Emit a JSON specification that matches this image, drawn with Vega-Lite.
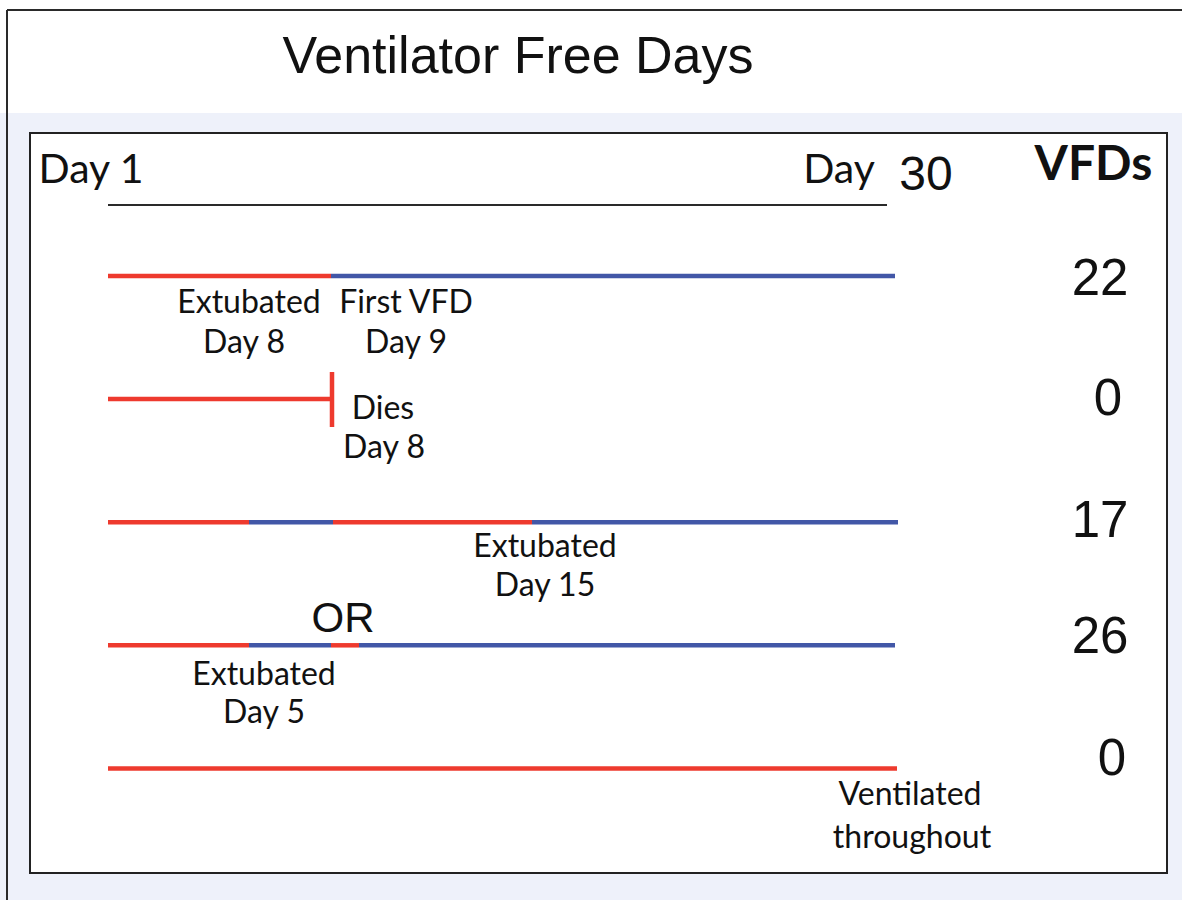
{
  "$schema": "https://vega.github.io/schema/vega-lite/v6.json",
  "width": 1182,
  "height": 900,
  "autosize": {"type": "none"},
  "padding": 0,
  "background": "white",
  "config": {"view": {"stroke": null}},
  "datasets": {
    "frame": [
      {"part": "panel", "day": -4.1065, "day_end": 40.8365, "row": -0.3241, "row_end": 6.069},
      {"part": "box", "day": -2.9658, "day_end": 40.2662, "row": -0.1617, "row_end": 5.8497}
    ],
    "lines": [
      {"part": "outer left", "day": -3.8403, "day_end": -3.8403, "row": -1.1608, "row_end": 6.069},
      {"part": "outer top", "day": -3.8403, "day_end": 40.8365, "row": -1.1608, "row_end": -1.1608},
      {"part": "timeline", "day": 0, "day_end": 29.62, "row": 0.4232, "row_end": 0.4232}
    ],
    "segments": [
      {"patient": 1, "state": "Ventilated", "day": 0, "day_end": 8.479, "row": 1, "row_end": 1},
      {"patient": 1, "state": "Ventilator free", "day": 8.479, "day_end": 29.924, "row": 1, "row_end": 1},
      {"patient": 2, "state": "Ventilated", "day": 0, "day_end": 8.517, "row": 2, "row_end": 2},
      {"patient": 2, "state": "Ventilated", "day": 8.517, "day_end": 8.517, "row": 1.7799, "row_end": 2.2266},
      {"patient": 3, "state": "Ventilated", "day": 0, "day_end": 5.361, "row": 3, "row_end": 3},
      {"patient": 3, "state": "Ventilator free", "day": 5.361, "day_end": 8.555, "row": 3, "row_end": 3},
      {"patient": 3, "state": "Ventilated", "day": 8.555, "day_end": 16.122, "row": 3, "row_end": 3},
      {"patient": 3, "state": "Ventilator free", "day": 16.122, "day_end": 30.038, "row": 3, "row_end": 3},
      {"patient": 4, "state": "Ventilated", "day": 0, "day_end": 5.361, "row": 4, "row_end": 4},
      {"patient": 4, "state": "Ventilator free", "day": 5.361, "day_end": 8.479, "row": 4, "row_end": 4},
      {"patient": 4, "state": "Ventilated", "day": 8.479, "day_end": 9.544, "row": 4, "row_end": 4},
      {"patient": 4, "state": "Ventilator free", "day": 9.544, "day_end": 29.924, "row": 4, "row_end": 4},
      {"patient": 5, "state": "Ventilated", "day": 0, "day_end": 30.0, "row": 5, "row_end": 5}
    ],
    "labels": [
      {"kind": "title", "text": "Ventilator Free Days", "day": 15.589, "row": -0.6491},
      {"kind": "header", "text": "Day 1", "day": -0.6464, "row": 0.2445},
      {"kind": "header", "text": "Day", "day": 27.795, "row": 0.2445},
      {"kind": "thirty", "text": "30", "day": 31.103, "row": 0.3014},
      {"kind": "vfd", "text": "VFDs", "day": 37.471, "row": 0.2201},
      {"kind": "count", "text": "22", "day": 37.719, "row": 1.1543},
      {"kind": "count", "text": "0", "day": 38.02, "row": 2.1292},
      {"kind": "count", "text": "17", "day": 37.719, "row": 3.1202},
      {"kind": "count", "text": "26", "day": 37.719, "row": 4.0626},
      {"kind": "count", "text": "0", "day": 38.17, "row": 5.0536},
      {"kind": "or", "text": "OR", "day": 8.935, "row": 3.892},
      {"kind": "note", "text": "Extubated", "day": 5.361, "row": 1.3006},
      {"kind": "note", "text": "Day 8", "day": 5.171, "row": 1.6255},
      {"kind": "note", "text": "First VFD", "day": 11.331, "row": 1.3006},
      {"kind": "note", "text": "Day 9", "day": 11.331, "row": 1.6255},
      {"kind": "note", "text": "Dies", "day": 10.456, "row": 2.1617},
      {"kind": "note", "text": "Day 8", "day": 10.494, "row": 2.4785},
      {"kind": "note", "text": "Extubated", "day": 16.616, "row": 3.2827},
      {"kind": "note", "text": "Day 15", "day": 16.616, "row": 3.5995},
      {"kind": "note", "text": "Extubated", "day": 5.932, "row": 4.3225},
      {"kind": "note", "text": "Day 5", "day": 5.932, "row": 4.6312},
      {"kind": "note", "text": "Ventilated", "day": 30.494, "row": 5.2973},
      {"kind": "note", "text": "throughout", "day": 30.57, "row": 5.6466}
    ]
  },
  "layer": [
    {
      "data": {"name": "frame"},
      "transform": [{"filter": "datum.part === 'panel'"}],
      "mark": {"type": "rect", "fill": "#eef1fa"},
      "encoding": {
        "x": {"field": "day", "type": "quantitative", "scale": {"domain": [-4.1065, 40.8365], "nice": false, "zero": false}, "axis": null},
        "x2": {"field": "day_end"},
        "y": {"field": "row", "type": "quantitative", "scale": {"domain": [-1.2421, 6.069], "nice": false, "zero": false, "reverse": true}, "axis": null},
        "y2": {"field": "row_end"}
      }
    },
    {
      "data": {"name": "frame"},
      "transform": [{"filter": "datum.part === 'box'"}],
      "mark": {"type": "rect", "fill": "white", "stroke": "#222222", "strokeWidth": 2},
      "encoding": {
        "x": {"field": "day", "type": "quantitative", "scale": {"domain": [-4.1065, 40.8365], "nice": false, "zero": false}, "axis": null},
        "x2": {"field": "day_end"},
        "y": {"field": "row", "type": "quantitative", "scale": {"domain": [-1.2421, 6.069], "nice": false, "zero": false, "reverse": true}, "axis": null},
        "y2": {"field": "row_end"}
      }
    },
    {
      "data": {"name": "lines"},
      "mark": {"type": "rule", "color": "#2a2a2a", "strokeWidth": 2},
      "encoding": {
        "x": {"field": "day", "type": "quantitative", "scale": {"domain": [-4.1065, 40.8365], "nice": false, "zero": false}, "axis": null},
        "x2": {"field": "day_end"},
        "y": {"field": "row", "type": "quantitative", "scale": {"domain": [-1.2421, 6.069], "nice": false, "zero": false, "reverse": true}, "axis": null},
        "y2": {"field": "row_end"}
      }
    },
    {
      "data": {"name": "segments"},
      "mark": {"type": "rule", "strokeWidth": 4.5},
      "encoding": {
        "x": {"field": "day", "type": "quantitative", "scale": {"domain": [-4.1065, 40.8365], "nice": false, "zero": false}, "axis": null},
        "x2": {"field": "day_end"},
        "y": {"field": "row", "type": "quantitative", "scale": {"domain": [-1.2421, 6.069], "nice": false, "zero": false, "reverse": true}, "axis": null},
        "y2": {"field": "row_end"},
        "color": {"field": "state", "type": "nominal", "scale": {"domain": ["Ventilated", "Ventilator free"], "range": ["#ee3a2e", "#4257a7"]}, "legend": null}
      }
    },
    {
      "data": {"name": "labels"},
      "transform": [{"filter": "datum.kind === 'title'"}],
      "mark": {"type": "text", "font": "Liberation Sans", "fontSize": 52, "align": "center", "baseline": "alphabetic", "color": "#111111"},
      "encoding": {
        "x": {"field": "day", "type": "quantitative", "scale": {"domain": [-4.1065, 40.8365], "nice": false, "zero": false}, "axis": null},
        "y": {"field": "row", "type": "quantitative", "scale": {"domain": [-1.2421, 6.069], "nice": false, "zero": false, "reverse": true}, "axis": null},
        "text": {"field": "text"}
      }
    },
    {
      "data": {"name": "labels"},
      "transform": [{"filter": "datum.kind === 'header'"}],
      "mark": {"type": "text", "font": "Lato", "fontSize": 41, "align": "center", "baseline": "alphabetic", "color": "#111111"},
      "encoding": {
        "x": {"field": "day", "type": "quantitative", "scale": {"domain": [-4.1065, 40.8365], "nice": false, "zero": false}, "axis": null},
        "y": {"field": "row", "type": "quantitative", "scale": {"domain": [-1.2421, 6.069], "nice": false, "zero": false, "reverse": true}, "axis": null},
        "text": {"field": "text"}
      }
    },
    {
      "data": {"name": "labels"},
      "transform": [{"filter": "datum.kind === 'thirty'"}],
      "mark": {"type": "text", "font": "Liberation Sans", "fontSize": 48, "align": "center", "baseline": "alphabetic", "color": "#111111"},
      "encoding": {
        "x": {"field": "day", "type": "quantitative", "scale": {"domain": [-4.1065, 40.8365], "nice": false, "zero": false}, "axis": null},
        "y": {"field": "row", "type": "quantitative", "scale": {"domain": [-1.2421, 6.069], "nice": false, "zero": false, "reverse": true}, "axis": null},
        "text": {"field": "text"}
      }
    },
    {
      "data": {"name": "labels"},
      "transform": [{"filter": "datum.kind === 'vfd'"}],
      "mark": {"type": "text", "font": "Lato", "fontSize": 48, "fontWeight": "bold", "align": "center", "baseline": "alphabetic", "color": "#111111"},
      "encoding": {
        "x": {"field": "day", "type": "quantitative", "scale": {"domain": [-4.1065, 40.8365], "nice": false, "zero": false}, "axis": null},
        "y": {"field": "row", "type": "quantitative", "scale": {"domain": [-1.2421, 6.069], "nice": false, "zero": false, "reverse": true}, "axis": null},
        "text": {"field": "text"}
      }
    },
    {
      "data": {"name": "labels"},
      "transform": [{"filter": "datum.kind === 'count'"}],
      "mark": {"type": "text", "font": "Liberation Sans", "fontSize": 51, "align": "center", "baseline": "alphabetic", "color": "#111111"},
      "encoding": {
        "x": {"field": "day", "type": "quantitative", "scale": {"domain": [-4.1065, 40.8365], "nice": false, "zero": false}, "axis": null},
        "y": {"field": "row", "type": "quantitative", "scale": {"domain": [-1.2421, 6.069], "nice": false, "zero": false, "reverse": true}, "axis": null},
        "text": {"field": "text"}
      }
    },
    {
      "data": {"name": "labels"},
      "transform": [{"filter": "datum.kind === 'or'"}],
      "mark": {"type": "text", "font": "Liberation Sans", "fontSize": 42, "align": "center", "baseline": "alphabetic", "color": "#111111"},
      "encoding": {
        "x": {"field": "day", "type": "quantitative", "scale": {"domain": [-4.1065, 40.8365], "nice": false, "zero": false}, "axis": null},
        "y": {"field": "row", "type": "quantitative", "scale": {"domain": [-1.2421, 6.069], "nice": false, "zero": false, "reverse": true}, "axis": null},
        "text": {"field": "text"}
      }
    },
    {
      "data": {"name": "labels"},
      "transform": [{"filter": "datum.kind === 'note'"}],
      "mark": {"type": "text", "font": "Lato", "fontSize": 32, "align": "center", "baseline": "alphabetic", "color": "#111111"},
      "encoding": {
        "x": {"field": "day", "type": "quantitative", "scale": {"domain": [-4.1065, 40.8365], "nice": false, "zero": false}, "axis": null},
        "y": {"field": "row", "type": "quantitative", "scale": {"domain": [-1.2421, 6.069], "nice": false, "zero": false, "reverse": true}, "axis": null},
        "text": {"field": "text"}
      }
    }
  ]
}
